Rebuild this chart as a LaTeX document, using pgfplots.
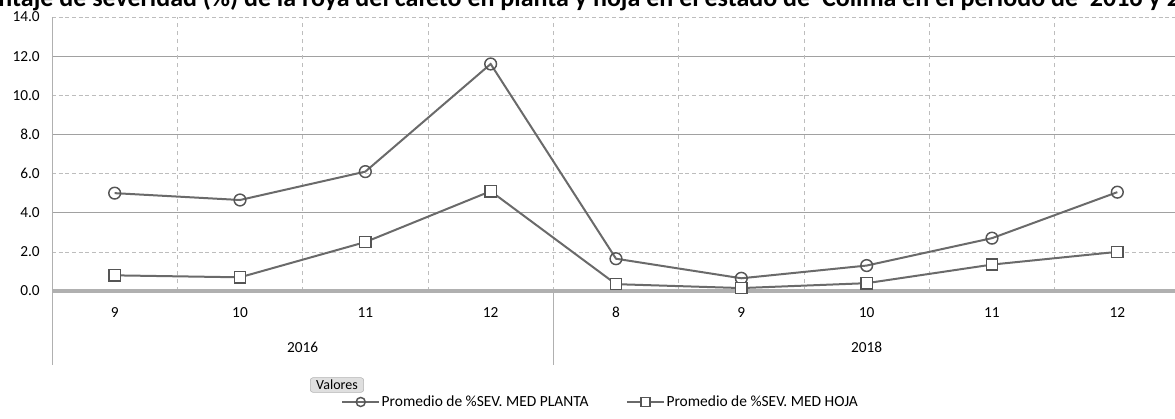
\documentclass[border=0pt]{standalone}
\usepackage{pgfplots}
\pgfplotsset{compat=1.18}
\usepackage{fontspec}
\setmainfont{Carlito}
\definecolor{ser}{HTML}{6A6A6A}
\definecolor{mk}{HTML}{555555}
\definecolor{gridc}{HTML}{BDBDBD}
\definecolor{axc}{HTML}{B0B0B0}
\begin{document}
\begin{tikzpicture}
\begin{axis}[
  at={(39pt,-218.25pt)}, anchor=south west,
  scale only axis, width=846pt, height=205.5pt,
  xmin=-0.5, xmax=8.5, ymin=0, ymax=14,
  clip=false,
  axis line style={draw=none},
  major tick length=0pt,
  ytick={0,2,4,6,8,10,12,14},
  yticklabels={0.0,2.0,4.0,6.0,8.0,10.0,12.0,14.0},
  yticklabel style={anchor=east, inner sep=0pt, xshift=-9pt, font=\fontsize{11.5}{13}\selectfont},
  xtick={0,1,2,3,4,5,6,7,8},
  xticklabels={9,10,11,12,8,9,10,11,12},
  xticklabel style={anchor=north, inner sep=0pt, yshift=-12pt, font=\fontsize{11.5}{13}\selectfont},
  legend columns=2,
  legend style={draw=none, fill=none, at={(rel axis cs:0.486,-0.405)}, anchor=center,
    font=\fontsize{11.6}{13}\selectfont, nodes={inner sep=1pt},
    /tikz/every even column/.append style={column sep=27pt}},
  legend image code/.code={\draw[#1, mark size=3.4pt, mark repeat=2, mark phase=2] plot coordinates {(0pt,0pt) (14pt,0pt) (28pt,0pt)};},
]
% horizontal grid
\foreach \yy in {2,6,10,14} {\edef\tmp{\noexpand\draw[gridc, densely dashed, line width=0.5pt] (axis cs:-0.5,\yy) -- (axis cs:8.5,\yy);}\tmp}
\foreach \yy in {4,8,12} {\edef\tmp{\noexpand\draw[gridc!85!black, line width=0.7pt] (axis cs:-0.5,\yy) -- (axis cs:8.5,\yy);}\tmp}
% vertical grid at category boundaries
\foreach \xx in {0.5,1.5,2.5,3.5,4.5,5.5,6.5,7.5} {\edef\tmp{\noexpand\draw[gridc, dashed, line width=0.5pt] (axis cs:\xx,0) -- (axis cs:\xx,14);}\tmp}
% axes
\draw[axc, line width=0.6pt] (axis cs:-0.5,14) -- (axis cs:-0.5,-3.78);
\draw[axc, line width=0.6pt] (axis cs:3.5,0) -- (axis cs:3.5,-3.78);
\draw[axc, line width=2.4pt] (axis cs:-0.5,0) -- (axis cs:8.5,0);
\node[font=\fontsize{11.5}{13}\selectfont] at (axis cs:1.5,-2.86) {2016};
\node[font=\fontsize{11.5}{13}\selectfont] at (axis cs:6,-2.86) {2018};

\addplot[ser, line width=1.5pt, mark=o, mark size=4.4pt, mark options={solid, fill=white, draw=mk, line width=1.1pt}]
  coordinates {(0,5.0) (1,4.65) (2,6.1) (3,11.6) (4,1.65) (5,0.65) (6,1.3) (7,2.7) (8,5.05)};
\addlegendentry{Promedio de \%SEV. MED PLANTA}
\addplot[ser, line width=1.5pt, mark=square*, mark size=4.2pt, mark options={solid, fill=white, draw=mk, line width=1.1pt}]
  coordinates {(0,0.8) (1,0.7) (2,2.5) (3,5.1) (4,0.35) (5,0.15) (6,0.4) (7,1.35) (8,2.0)};
\addlegendentry{Promedio de \%SEV. MED HOJA}
\end{axis}
\begin{scope}[x=0.75pt,y=-0.75pt]
\node[anchor=base east, inner sep=0pt, font=\bfseries\fontsize{19.5}{22}\selectfont] at (1180,6) {Porcentaje de severidad (\%) de la roya del cafeto en planta y hoja en el estado de\ \ Colima en el periodo de\ \ 2016 y 2};
\node[anchor=base west, inner sep=0pt, font=\bfseries\fontsize{19.5}{22}\selectfont] at (1180,6) {018};
\node[draw=gray!60, fill=gray!25, rounded corners=2pt, minimum width=40pt, minimum height=11pt, inner sep=1pt, font=\fontsize{10.5}{12}\selectfont] at (337,385) {Valores};
\end{scope}
\pgfresetboundingbox
\path[use as bounding box] (0,0) rectangle (881.25pt,-313.5pt);
\end{tikzpicture}
\end{document}
